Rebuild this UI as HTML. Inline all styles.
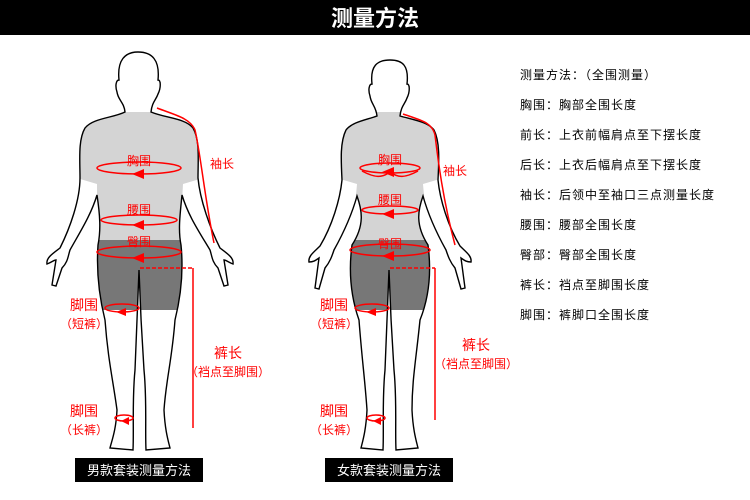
<!DOCTYPE html>
<html><head><meta charset="utf-8"><style>
body{margin:0;width:750px;height:500px;background:#fff;overflow:hidden}
svg{display:block}
text{font-family:"Liberation Sans","Noto Sans CJK SC",sans-serif}
</style></head><body>
<svg width="750" height="500" viewBox="0 0 750 500">
<defs>
<clipPath id="cm"><path id="pm" d="M125,112 C124,102 118,100 117,92 C115,86 116,80 119,80 C117,60 125,52 138,52 C152,52 160,60 158,80 C161,80 161,88 158,94 C156,100 152,102 151,112 C165,118 185,118 193,128 C200,140 198,160 198,178 C200,200 210,228 220,248 C228,254 234,258 233,264 C228,262 226,260 224,260 L228,285 L224,286 L218,268 C212,262 212,256 210,250 C198,230 188,215 182,195 C180,215 178,230 181,245 C184,275 180,300 175,320 C172,360 166,380 164,410 C165,430 168,440 170,448 L146,450 C145,430 147,400 144,370 C142,340 140,300 139,270 C138,300 136,340 135,370 C132,400 134,430 133,450 L110,448 C112,440 116,430 117,410 C113,380 108,360 105,320 C100,300 96,275 98,245 C101,230 100,215 97,195 C91,215 80,232 70,250 C68,256 68,262 62,268 L56,286 L52,285 L56,260 C54,260 52,262 47,264 C46,258 52,254 60,248 C70,228 80,200 80,178 C80,160 78,140 85,128 C93,118 113,118 125,112 Z"/></clipPath>
<clipPath id="cf"><path id="pf" d="M377,116 C376,106 371,104 370,96 C368,90 369,84 372,84 C370,66 377,60 390,60 C403,60 409,66 407,84 C410,84 410,92 407,98 C405,104 401,106 400,116 C414,120 428,122 434,130 C440,142 439,160 438,180 C440,200 448,226 460,246 C466,252 472,256 471,262 C466,262 464,260 461,258 L465,288 L461,289 L455,268 C450,262 448,256 446,250 C436,232 428,214 423,196 C418,210 415,225 428,245 C432,275 428,300 420,320 C416,360 412,380 412,410 C413,430 416,440 418,448 L396,450 C395,430 397,400 394,370 C392,340 390,300 389,270 C388,300 386,340 385,370 C382,400 384,430 383,450 L361,448 C363,440 366,430 367,410 C365,380 362,360 359,320 C352,300 348,275 352,245 C365,225 362,210 357,196 C352,214 344,232 334,250 C332,256 330,262 325,268 L319,289 L315,288 L319,258 C316,260 314,262 309,262 C308,256 314,252 320,246 C332,226 340,200 342,180 C341,160 340,142 346,130 C352,122 366,120 377,116 Z"/></clipPath>
</defs>
<rect x="0" y="0" width="750" height="35" fill="#000"/>
<text x="375" y="26" fill="#fff" font-size="22" font-weight="bold" text-anchor="middle">测量方法</text>

<use href="#pm" fill="#fff"/>
<g clip-path="url(#cm)">
<polygon points="70,112 210,112 210,176 183,184 180,240 97,240 97,184 70,176" fill="#d4d4d4"/>
<rect x="85" y="240" width="110" height="70" fill="#777"/>
</g>
<use href="#pm" fill="none" stroke="#000" stroke-width="1.4"/>
<use href="#pf" fill="#fff"/>
<g clip-path="url(#cf)">
<polygon points="330,112 450,112 450,176 423,184 428,240 352,240 357,184 330,176" fill="#d4d4d4"/>
<rect x="340" y="240" width="100" height="70" fill="#777"/>
</g>
<use href="#pf" fill="none" stroke="#000" stroke-width="1.4"/>

<g fill="none" stroke="#f00" stroke-width="1.5">
<path d="M157,108 C175,115 190,118 195,130 C200,150 205,200 214,243"/>
<ellipse cx="139" cy="168" rx="42" ry="6"/>
<ellipse cx="139" cy="220" rx="38" ry="5"/>
<ellipse cx="139" cy="252" rx="42" ry="6"/>
<ellipse cx="122" cy="308" rx="17" ry="4"/>
<ellipse cx="124" cy="418" rx="9" ry="3"/>
<path d="M403,114 C420,120 432,122 435,135 C438,160 443,200 455,245"/>
<ellipse cx="390" cy="168" rx="30" ry="5"/>
<path d="M362,171 C375,178 382,178 390,172 C398,178 405,178 418,171"/>
<ellipse cx="390" cy="210" rx="28" ry="4"/>
<ellipse cx="390" cy="250" rx="40" ry="6"/>
<ellipse cx="372" cy="308" rx="17" ry="4"/>
<ellipse cx="376" cy="418" rx="9" ry="3"/>
<path d="M140,268 H193" stroke-dasharray="4,2"/><path d="M193,268 V428"/>
<path d="M390,268 H435" stroke-dasharray="4,2"/><path d="M435,268 V420"/>
</g>
<g fill="#f00">
<polygon points="132,174 144,169 144,179"/><polygon points="132,225 144,220 144,230"/><polygon points="132,258 144,253 144,263"/>
<polygon points="116,312 126,308 126,316"/><polygon points="121,421 129,417 129,425"/>
<polygon points="382,172 394,167 394,177"/><polygon points="382,214 394,209 394,219"/><polygon points="382,256 394,251 394,261"/>
<polygon points="366,312 376,308 376,316"/><polygon points="373,421 381,417 381,425"/>
</g>
<g fill="#f00" font-size="12" text-anchor="middle">
<text x="139" y="165">胸围</text><text x="139" y="214">腰围</text><text x="139" y="246">臀围</text>
<text x="222" y="168">袖长</text>
<text x="84" y="310" font-size="14">脚围</text><text x="84" y="328">（短裤）</text>
<text x="84" y="416" font-size="14">脚围</text><text x="84" y="434">（长裤）</text>
<text x="228" y="358" font-size="14">裤长</text><text x="228" y="376">（裆点至脚围）</text>
<text x="390" y="164">胸围</text><text x="390" y="204">腰围</text><text x="390" y="248">臀围</text>
<text x="455" y="175">袖长</text>
<text x="334" y="310" font-size="14">脚围</text><text x="334" y="328">（短裤）</text>
<text x="334" y="416" font-size="14">脚围</text><text x="334" y="434">（长裤）</text>
<text x="476" y="350" font-size="14">裤长</text><text x="476" y="368">（裆点至脚围）</text>
</g>
<rect x="75" y="458" width="128" height="24" fill="#000"/>
<text x="139" y="475" fill="#fff" font-size="13" text-anchor="middle">男款套装测量方法</text>
<rect x="325" y="458" width="128" height="24" fill="#000"/>
<text x="389" y="475" fill="#fff" font-size="13" text-anchor="middle">女款套装测量方法</text>
<g font-size="12" fill="#000" letter-spacing="1">
<text x="520" y="79">测量方法：（全围测量）</text>
<text x="520" y="109">胸围：胸部全围长度</text>
<text x="520" y="139">前长：上衣前幅肩点至下摆长度</text>
<text x="520" y="169">后长：上衣后幅肩点至下摆长度</text>
<text x="520" y="199">袖长：后领中至袖口三点测量长度</text>
<text x="520" y="229">腰围：腰部全围长度</text>
<text x="520" y="259">臀部：臀部全围长度</text>
<text x="520" y="289">裤长：裆点至脚围长度</text>
<text x="520" y="319">脚围：裤脚口全围长度</text>
</g>
</svg>
</body></html>
